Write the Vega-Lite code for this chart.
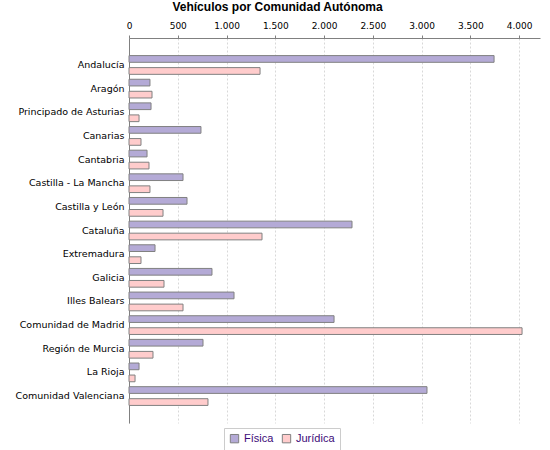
{
  "$schema": "https://vega.github.io/schema/vega-lite/v6.json",
  "autosize": {"type": "none"},
  "width": 411,
  "height": 385,
  "padding": {"left": 129, "top": 38, "right": 10, "bottom": 27},
  "background": "white",
  "title": {"text": "Vehículos por Comunidad Autónoma", "font": "Liberation Sans", "fontSize": 12, "fontWeight": "bold", "color": "#000000", "anchor": "middle", "frame": "bounds", "offset": 7},
  "config": {
    "locale": {"number": {"decimal": ",", "thousands": ".", "grouping": [3], "currency": ["", " €"]}},
    "view": {"stroke": null}
  },
  "data": {"values": [
    {"c": "Andalucía", "t": "Física", "v": 3744},
    {"c": "Andalucía", "t": "Jurídica", "v": 1344},
    {"c": "Aragón", "t": "Física", "v": 215},
    {"c": "Aragón", "t": "Jurídica", "v": 236},
    {"c": "Principado de Asturias", "t": "Física", "v": 226},
    {"c": "Principado de Asturias", "t": "Jurídica", "v": 103},
    {"c": "Canarias", "t": "Física", "v": 738},
    {"c": "Canarias", "t": "Jurídica", "v": 123},
    {"c": "Cantabria", "t": "Física", "v": 185},
    {"c": "Cantabria", "t": "Jurídica", "v": 205},
    {"c": "Castilla - La Mancha", "t": "Física", "v": 554},
    {"c": "Castilla - La Mancha", "t": "Jurídica", "v": 215},
    {"c": "Castilla y León", "t": "Física", "v": 595},
    {"c": "Castilla y León", "t": "Jurídica", "v": 349},
    {"c": "Cataluña", "t": "Física", "v": 2287},
    {"c": "Cataluña", "t": "Jurídica", "v": 1364},
    {"c": "Extremadura", "t": "Física", "v": 267},
    {"c": "Extremadura", "t": "Jurídica", "v": 123},
    {"c": "Galicia", "t": "Física", "v": 851},
    {"c": "Galicia", "t": "Jurídica", "v": 359},
    {"c": "Illes Balears", "t": "Física", "v": 1077},
    {"c": "Illes Balears", "t": "Jurídica", "v": 554},
    {"c": "Comunidad de Madrid", "t": "Física", "v": 2103},
    {"c": "Comunidad de Madrid", "t": "Jurídica", "v": 4031},
    {"c": "Región de Murcia", "t": "Física", "v": 759},
    {"c": "Región de Murcia", "t": "Jurídica", "v": 246},
    {"c": "La Rioja", "t": "Física", "v": 103},
    {"c": "La Rioja", "t": "Jurídica", "v": 62},
    {"c": "Comunidad Valenciana", "t": "Física", "v": 3056},
    {"c": "Comunidad Valenciana", "t": "Jurídica", "v": 810}
  ]},
  "mark": {"type": "bar", "stroke": "#808080", "strokeWidth": 1},
  "encoding": {
    "y": {
      "field": "c", "type": "nominal", "sort": null, "title": null,
      "scale": {"paddingInner": 0, "paddingOuter": 0.64},
      "axis": {"labelFont": "DejaVu Sans", "labelFontSize": 9.5, "labelColor": "#000000", "domainColor": "#808080", "ticks": false, "labelPadding": 5, "labelLimit": 200}
    },
    "yOffset": {
      "field": "t", "type": "nominal", "sort": ["Física", "Jurídica"],
      "scale": {"paddingInner": 0.442, "paddingOuter": 0.204}
    },
    "x": {
      "field": "v", "type": "quantitative", "title": null,
      "scale": {"domain": [0, 4215], "nice": false, "zero": true},
      "axis": {"orient": "top", "values": [0, 500, 1000, 1500, 2000, 2500, 3000, 3500, 4000], "format": ",d",
        "labelFont": "DejaVu Sans", "labelFontSize": 9, "labelColor": "#000000", "labelPadding": 5,
        "domainColor": "#808080", "tickColor": "#808080", "tickSize": 3,
        "grid": true, "gridColor": "#d8d8d8", "gridDash": [2, 2], "gridWidth": 1, "labelFlush": false}
    },
    "color": {
      "field": "t", "type": "nominal", "sort": ["Física", "Jurídica"],
      "scale": {"domain": ["Física", "Jurídica"], "range": ["#b4aad6", "#ffcccc"]},
      "legend": {"title": null, "orient": "none", "legendX": 95, "legendY": 390, "direction": "horizontal",
        "strokeColor": "#cccccc", "padding": 5, "symbolType": "square", "symbolSize": 70, "symbolStrokeColor": "#808080", "symbolStrokeWidth": 1,
        "labelFont": "Liberation Sans", "labelFontSize": 11, "labelColor": "#3c0a78", "columnPadding": 6, "symbolOffset": 0, "labelOffset": 4}
    }
  }
}
